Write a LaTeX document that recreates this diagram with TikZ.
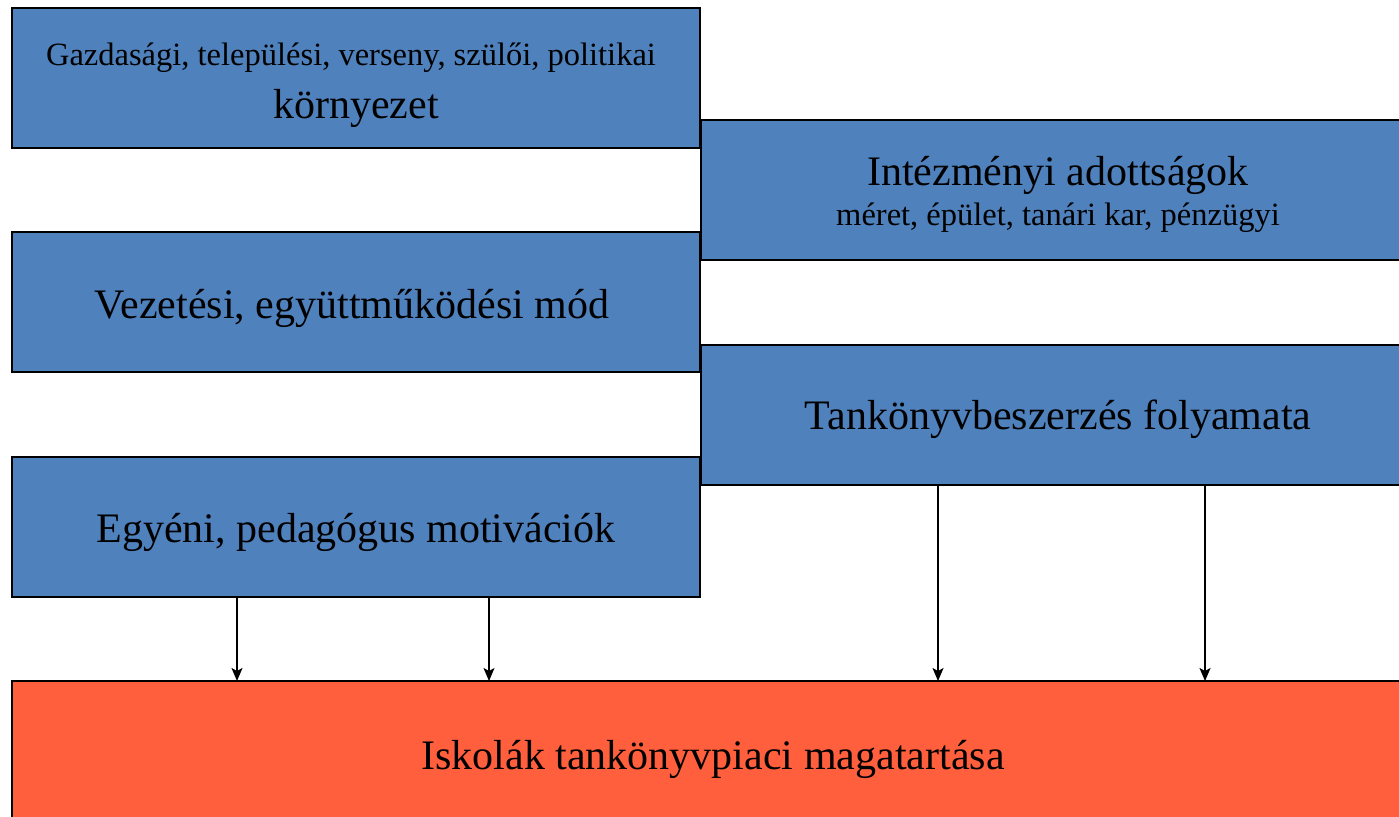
\documentclass[tikz,border=0pt]{standalone}
\usepackage{fontspec}
\setmainfont{Liberation Serif}
\usetikzlibrary{arrows.meta}
\definecolor{boxblue}{HTML}{4F81BD}
\definecolor{boxred}{HTML}{FF5F3C}
\tikzset{
  panel/.style={draw=black, line width=2pt, fill=boxblue, anchor=north west,
    inner sep=0pt, outer sep=0pt},
  target/.style={panel, fill=boxred},
  big/.style={anchor=base, inner sep=0pt, font=\fontsize{42}{46}\selectfont},
  small/.style={anchor=base, inner sep=0pt, font=\fontsize{32.5}{36}\selectfont},
  link/.style={line width=1.5pt, -{Stealth[length=13pt,width=11pt,inset=3pt]}}
}
\begin{document}
\begin{tikzpicture}[x=1pt, y=-1pt]
  \clip (0,0) rectangle (1399,816);
  \useasboundingbox (0,0) rectangle (1399,816);
  % left column
  \node[panel, minimum width=688pt, minimum height=140pt] (env) at (12,8) {};
  \node[panel, minimum width=688pt, minimum height=140pt] (lead) at (12,232) {};
  \node[panel, minimum width=688pt, minimum height=140pt] (motiv) at (12,457) {};
  % right column
  \node[panel, minimum width=714pt, minimum height=140pt] (inst) at (701,120) {};
  \node[panel, minimum width=714pt, minimum height=140pt] (proc) at (701,345) {};
  % result
  \node[target, minimum width=1402pt, minimum height=148pt] (school) at (12,681) {};
  % labels
  \node[small] (envA) at (351,66) {Gazdasági, települési, verseny, szülői, politikai};
  \node[big]   (envB) at (356,118) {környezet};
  \node[big]   (instA) at (1058,185) {Intézményi adottságok};
  \node[small] (instB) at (1058,225) {méret, épület, tanári kar, pénzügyi};
  \node[big]   (leadA) at (352,318) {Vezetési, együttműködési mód};
  \node[big]   (procA) at (1058,429) {Tankönyvbeszerzés folyamata};
  \node[big]   (motivA) at (356,542) {Egyéni, pedagógus motivációk};
  \node[big]   (schoolA) at (713,769) {Iskolák tankönyvpiaci magatartása};
  % connectors
  \draw[link] (motiv.south -| 237,0) -- (school.north -| 237,0);
  \draw[link] (motiv.south -| 489,0) -- (school.north -| 489,0);
  \draw[link] (proc.south -| 938,0) -- (school.north -| 938,0);
  \draw[link] (proc.south -| 1205,0) -- (school.north -| 1205,0);
\end{tikzpicture}
\end{document}
